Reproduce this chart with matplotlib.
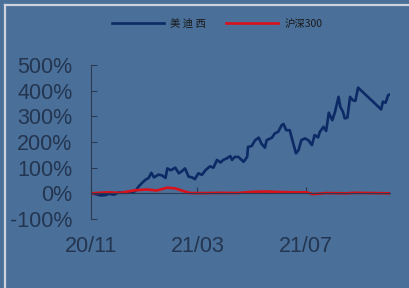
import matplotlib
matplotlib.use('Agg')
import matplotlib.pyplot as plt
from matplotlib.lines import Line2D
import pandas as pd

plt.rcParams['axes.unicode_minus'] = False

# 美迪西 cumulative return
mds_dates = ['2020-11-02', '2020-11-06', '2020-11-12', '2020-11-17', '2020-11-21', '2020-11-27',
             '2020-12-02', '2020-12-10', '2020-12-15', '2020-12-21', '2020-12-25', '2020-12-29',
             '2021-01-01', '2021-01-05', '2021-01-08', '2021-01-11', '2021-01-16', '2021-01-20',
             '2021-01-24', '2021-01-26', '2021-01-30', '2021-02-04', '2021-02-08', '2021-02-11',
             '2021-02-15', '2021-02-19', '2021-02-23', '2021-02-26', '2021-03-02', '2021-03-06',
             '2021-03-10', '2021-03-15', '2021-03-19', '2021-03-23', '2021-03-27', '2021-03-30',
             '2021-04-03', '2021-04-07', '2021-04-09', '2021-04-12', '2021-04-16', '2021-04-22',
             '2021-04-26', '2021-04-27', '2021-05-01', '2021-05-05', '2021-05-09', '2021-05-12',
             '2021-05-16', '2021-05-18', '2021-05-24', '2021-05-27', '2021-05-31', '2021-06-04',
             '2021-06-06', '2021-06-09', '2021-06-13', '2021-06-17', '2021-06-20', '2021-06-23',
             '2021-06-26', '2021-06-30', '2021-07-04', '2021-07-08', '2021-07-11', '2021-07-15',
             '2021-07-17', '2021-07-21', '2021-07-24', '2021-07-27', '2021-07-31', '2021-08-03',
             '2021-08-07', '2021-08-09', '2021-08-12', '2021-08-14', '2021-08-17', '2021-08-20',
             '2021-08-23', '2021-08-26', '2021-08-29', '2021-09-24', '2021-09-26', '2021-09-29',
             '2021-10-02', '2021-10-04']
mds_values = [0.00, -0.03, -0.08, -0.07, -0.02, -0.05,
              0.03, 0.02, 0.03, 0.09, 0.28, 0.42,
              0.52, 0.60, 0.80, 0.62, 0.73, 0.70,
              0.60, 0.97, 0.90, 1.00, 0.78, 0.85,
              0.97, 0.65, 0.62, 0.55, 0.78, 0.72,
              0.90, 1.05, 1.00, 1.30, 1.20, 1.30,
              1.36, 1.45, 1.30, 1.42, 1.42, 1.23,
              1.42, 1.81, 1.84, 2.07, 2.17, 1.94,
              1.78, 2.07, 2.17, 2.33, 2.40, 2.66,
              2.70, 2.46, 2.46, 1.94, 1.56, 1.69,
              2.07, 2.14, 2.07, 1.88, 2.27, 2.18,
              2.40, 2.59, 2.43, 3.14, 2.85, 3.17,
              3.76, 3.37, 3.17, 2.92, 2.95, 3.76,
              3.63, 3.60, 4.12, 3.27, 3.57, 3.53,
              3.83, 3.85]

# 沪深300 cumulative return
hs_dates = ['2020-11-02', '2020-11-19', '2020-12-04', '2020-12-21', '2021-01-03', '2021-01-14',
            '2021-01-26', '2021-02-04', '2021-02-13', '2021-02-21', '2021-03-12', '2021-03-30',
            '2021-04-14', '2021-05-03', '2021-05-18', '2021-06-02', '2021-06-17', '2021-07-02',
            '2021-07-09', '2021-07-24', '2021-08-15', '2021-08-26', '2021-10-04']
hs_values = [0.00, 0.04, 0.02, 0.12, 0.15, 0.11,
             0.22, 0.19, 0.09, 0.01, 0.01, 0.02,
             0.01, 0.06, 0.07, 0.05, 0.04, 0.04,
             -0.03, 0.01, 0.00, 0.02, 0.00]

yticks = [-1, 0, 1, 2, 3, 4, 5]
ytick_labels = ['-100%', '0%', '100%', '200%', '300%', '400%', '500%']
xticks = ['2020-11-01', '2021-03-01', '2021-07-01']
xtick_labels = ['20/11', '21/03', '21/07']

bg = '#4a6f98'
txt = '#233550'

fig = plt.figure(figsize=(4.09, 2.88), dpi=100, facecolor=bg)
ax = fig.add_axes([91 / 409, 69 / 288, 299 / 409, 154 / 288])
ax.set_facecolor(bg)

ax.plot(pd.to_datetime(mds_dates), mds_values, color='#0c2a66', lw=1.9, label='美 迪 西')
ax.plot(pd.to_datetime(hs_dates), hs_values, color='#d8111b', lw=1.9, label='沪深300')

ax.set_xlim(pd.Timestamp('2020-11-01'), pd.Timestamp('2021-10-04'))
ax.set_ylim(-1, 5)
ax.set_yticks(yticks)
ax.set_yticklabels(ytick_labels)
ax.set_xticks(pd.to_datetime(xticks))
ax.set_xticklabels(xtick_labels)

for s in ['top', 'right']:
    ax.spines[s].set_visible(False)
ax.spines['bottom'].set_position(('data', 0))
for s in ['left', 'bottom']:
    ax.spines[s].set_color('#2a3a52')
    ax.spines[s].set_linewidth(0.8)

ax.tick_params(axis='both', direction='in', length=4.5, width=0.8, color='#2a3a52', labelcolor=txt)
ax.tick_params(axis='y', pad=13.5)
ax.tick_params(axis='x', pad=31)
for lab in ax.get_yticklabels() + ax.get_xticklabels():
    lab.set_family(['Liberation Sans', 'DejaVu Sans'])
    lab.set_fontsize(15.5)

leg = fig.legend(loc='center', bbox_to_anchor=(217 / 409, 1 - 24 / 288), ncol=2, frameon=False,
                 prop={'family': ['Noto Sans CJK SC', 'DejaVu Sans'], 'size': 7.5},
                 handlelength=5, handletextpad=0.6, columnspacing=1.9)
for t in leg.get_texts():
    t.set_color('#1a1a1a')

# light frame at top and left
fig.add_artist(Line2D([5 / 409, 5 / 409], [0, 1 - 5 / 288], transform=fig.transFigure, color='#cdd4de', lw=1.6))
fig.add_artist(Line2D([5 / 409, 1], [1 - 5 / 288, 1 - 5 / 288], transform=fig.transFigure, color='#cdd4de', lw=1.6))

fig.savefig('out.png', dpi=100, facecolor=bg)
